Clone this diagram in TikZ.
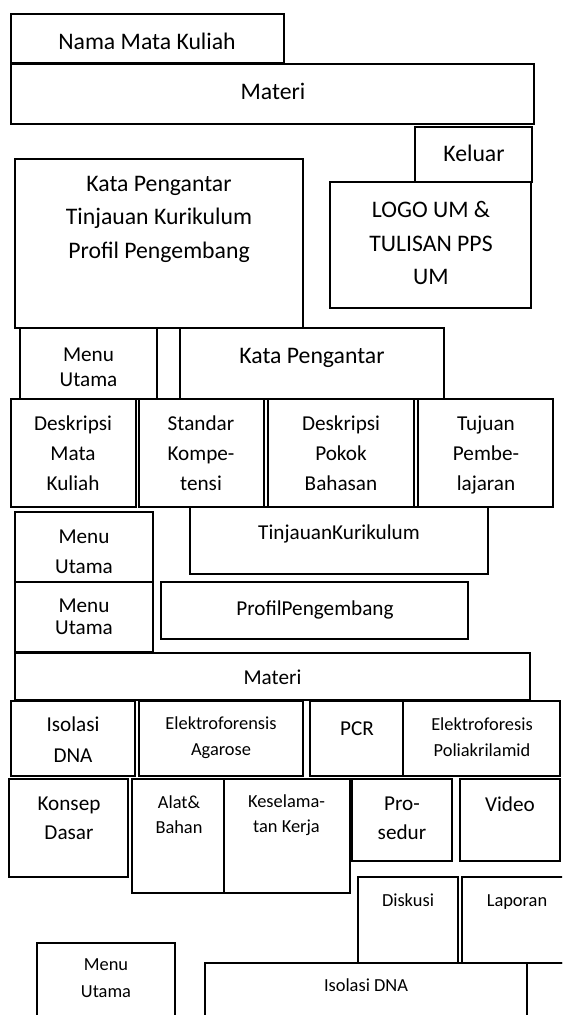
\documentclass[tikz,border=0pt]{standalone}
\usepackage{fontspec}
\setmainfont{Carlito}
\usetikzlibrary{fit}
\begin{document}
\begin{tikzpicture}[x=0.75pt,y=-0.75pt,
  box/.style={draw, line width=1.5pt, inner sep=0pt},
  big/.style={font=\fontsize{17.8}{#1}\selectfont, align=center, inner sep=0pt},
  big/.default=25,
  mid/.style={font=\fontsize{15.9}{#1}\selectfont, align=center, inner sep=0pt},
  mid/.default=22.5,
  sml/.style={font=\fontsize{13.8}{#1}\selectfont, align=center, inner sep=0pt},
  sml/.default=19.5]
\useasboundingbox (0,0) rectangle (562,1015);
\fill[white] (0,0) rectangle (562,1015);
\clip (0,0) rectangle (562,1015);
% boxes
\node[box, fit={(11,14) (284,63)}] (nama) {};
\node[box, fit={(11,64) (534,124)}] (materi) {};
\node[box, fit={(415,127) (532,182)}] (keluar) {};
\node[box, fit={(15,159) (303,328)}] (kata) {};
\node[box, fit={(330,182) (531,308)}] (logo) {};
\node[box, fit={(20,328) (157,399)}] (menu1) {};
\node[box, fit={(180,328) (444,399)}] (kata2) {};
\node[box, fit={(11,399) (136,507)}] (dmk) {};
\node[box, fit={(139,399) (264,507)}] (sk) {};
\node[box, fit={(268,399) (414,507)}] (dpb) {};
\node[box, fit={(418,399) (553,507)}] (tp) {};
\node[box, fit={(15,512) (153,582)}] (menu2) {};
\node[box, fit={(190,507) (488,574)}] (tinj) {};
\node[box, fit={(15,582) (153,652)}] (menu3) {};
\node[box, fit={(161,582) (468,639)}] (profil) {};
\node[box, fit={(15,653) (530,700)}] (materi2) {};
\node[box, fit={(11,701) (135,776)}] (iso) {};
\node[box, fit={(139,701) (303,776)}] (eag) {};
\node[box, fit={(310,701) (403,776)}] (pcr) {};
\node[box, fit={(403,701) (560,776)}] (epa) {};
\node[box, fit={(9,779) (128,877)}] (kd) {};
\node[box, fit={(132,779) (224,893)}] (ab) {};
\node[box, fit={(224,779) (350,893)}] (kk) {};
\node[box, fit={(352,779) (452,861)}] (pros) {};
\node[box, fit={(460,779) (560,861)}] (video) {};
\node[box, fit={(358,877) (458,963)}] (disk) {};
\node[box, fit={(462,877) (572,963)}] (lap) {};
\node[box, fit={(37,943) (175,1030)}] (menu4) {};
\node[box, fit={(205,963) (527,1030)}] (iso2) {};
\node[box, fit={(527,963) (580,1030)}] (extra) {};
% texts
\node[big] (tnama) at (147,41) {Nama Mata Kuliah};
\node[big] (tmateri) at (273,91) {Materi};
\node[big] (tkeluar) at (474,153) {Keluar};
\node[big=25.1] (tkata) at (159,219) {Kata Pengantar\\Tinjauan Kurikulum\\Profil Pengembang};
\node[big=25.1] (tlogo) at (431,243) {LOGO UM \&\\TULISAN PPS\\UM};
\node[mid=18.75] (tmenu1) at (88.5,367.5) {Menu\\Utama};
\node[big] (tkata2) at (312,358) {Kata Pengantar};
\node[mid=22.5] (tdmk) at (73,453) {Deskripsi\\Mata\\Kuliah};
\node[mid=22.5] (tsk) at (201,453) {Standar\\Kompe-\\tensi};
\node[mid=22.5] (tdpb) at (341,453) {Deskripsi\\Pokok\\Bahasan};
\node[mid=22.5] (ttp) at (486,455) {Tujuan\\Pembe-\\lajaran};
\node[mid=22.5] (tmenu2) at (84,552) {Menu\\Utama};
\node[mid] (ttinj) at (339,534) {TinjauanKurikulum};
\node[mid=16.5] (tmenu3) at (84,617) {Menu\\Utama};
\node[mid] (tprofil) at (315,610) {ProfilPengembang};
\node[mid] (tmateri2) at (272.5,677) {Materi};
\node[mid=23.25] (tiso) at (73,740) {Isolasi\\DNA};
\node[sml=19.5] (teag) at (221,738) {Elektroforensis\\Agarose};
\node[mid] (tpcr) at (357,729) {PCR};
\node[sml=19.5] (tepa) at (482,737) {Elektroforesis\\Poliakrilamid};
\node[mid=21.75] (tkd) at (69,818.5) {Konsep\\Dasar};
\node[sml=18.75] (tab) at (179,815) {Alat\&\\Bahan};
\node[sml=18.75] (tkk) at (286.5,815) {Keselama-\\tan Kerja};
\node[mid=21.75] (tpros) at (402,818.5) {Pro-\\sedur};
\node[mid] (tvideo) at (510,804) {Video};
\node[sml] (tdisk) at (408,900) {Diskusi};
\node[sml] (tlap) at (517,902) {Laporan};
\node[sml=20.25] (tmenu4) at (106,978.5) {Menu\\Utama};
\node[sml] (tiso2) at (366,985) {Isolasi DNA};
\end{tikzpicture}
\end{document}
